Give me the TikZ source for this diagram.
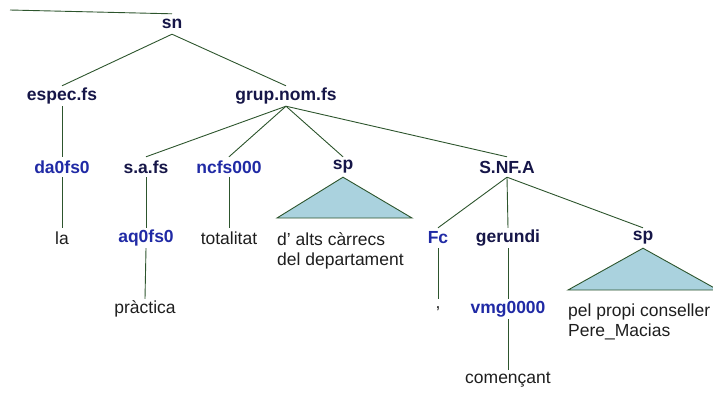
\documentclass[tikz,border=0pt]{standalone}
\usepackage{fontspec}
\setmainfont{Liberation Sans}
\definecolor{TagNavy}{RGB}{22,22,72}
\definecolor{PosBlue}{RGB}{32,42,165}
\definecolor{BranchGreen}{RGB}{45,85,45}
\definecolor{TriFill}{RGB}{170,210,222}
\definecolor{WordGray}{RGB}{30,30,30}

\begin{document}
\begin{tikzpicture}[x=1pt, y=-1pt,
    tag/.style={font=\fontsize{17.5}{20}\selectfont\bfseries, text=TagNavy,
                inner sep=0pt, minimum height=20pt},
    postag/.style={tag, text=PosBlue},
    word/.style={font=\fontsize{17.5}{20}\selectfont, text=WordGray,
                 inner sep=0pt, minimum height=20pt},
    spantext/.style={word, anchor=north west, align=left, yshift=-14pt},
    branch/.style={BranchGreen, line width=0.9pt},
    roof/.style={branch, fill=TriFill}]

  \useasboundingbox (0,0) rectangle (713,392);
  \clip (0,0) rectangle (713,392);

  % --- Level 0: sn, hanging from an edge off to the left ---
  \coordinate (up) at (10,10);
  \node[tag] (sn) at (172,24) {sn};
  \draw[branch] (up) -- (sn.north);

  % --- Level 1 ---
  \node[tag] (espec) at (62,96)  {espec.fs};
  \node[tag] (grup)  at (286,96) {grup.nom.fs};
  \draw[branch] (sn.south) -- (espec.north);
  \draw[branch] (sn.south) -- (grup.north);

  % --- Level 2 ---
  \node[postag] (da)   at (62,167)  {da0fs0};
  \node[tag]    (sa)   at (146,167) {s.a.fs};
  \node[postag] (nc)   at (229,167) {ncfs000};
  \node[tag]    (spA)  at (343,167) {sp};
  \node[tag]    (snfa) at (507,167) {S.NF.A};
  \draw[branch] (espec.south) -- (da.north);
  \foreach \c in {sa,nc,spA,snfa}
    \draw[branch] (grup.south) -- (\c.north);

  % --- Level 3 ---
  \node[word]   (la)   at (62,238)  {la};
  \node[postag] (aq)   at (146,238) {aq0fs0};
  \node[word]   (tot)  at (229,238) {totalitat};
  \node[postag] (fc)   at (438,238) {Fc};
  \node[tag]    (ger)  at (508,238) {gerundi};
  \node[tag]    (spB)  at (643,238) {sp};
  \draw[branch] (da.south) -- (la.north);
  \draw[branch] (sa.south) -- (aq.north);
  \draw[branch] (nc.south) -- (tot.north);
  \foreach \c in {fc,ger,spB}
    \draw[branch] (snfa.south) -- (\c.north);

  % --- Roof over "d' alts carrecs ..." (apex 343,178; base y=218) ---
  \coordinate (roofAl) at (277,218);
  \coordinate (roofAr) at (412,218);
  \draw[roof] (spA.south) -- (roofAr) -- (roofAl) -- cycle;
  \node[spantext] (altsTxt) at (roofAl) {d’ alts càrrecs\\del departament};

  % --- Level 4 ---
  \node[word]   (prac)  at (145,309) {pràctica};
  \node[word]   (comma) at (438,309) {,};
  \node[postag] (vmg)   at (508,309) {vmg0000};
  \draw[branch] (aq.south) -- (prac.north);
  \draw[branch] (fc.south) -- (comma.north);
  \draw[branch] (ger.south) -- (vmg.north);

  % --- Roof over "pel propi conseller ..." (apex 643,249; base y=290) ---
  \coordinate (roofBl) at (568,290);
  \coordinate (roofBr) at (718,290);
  \draw[roof] (spB.south) -- (roofBr) -- (roofBl) -- cycle;
  \node[spantext] (pelTxt) at (roofBl) {pel propi conseller\\Pere\_Macias};

  % --- Level 5 ---
  \node[word] (comen) at (508,380) {començant};
  \draw[branch] (vmg.south) -- (comen.north);

\end{tikzpicture}
\end{document}
